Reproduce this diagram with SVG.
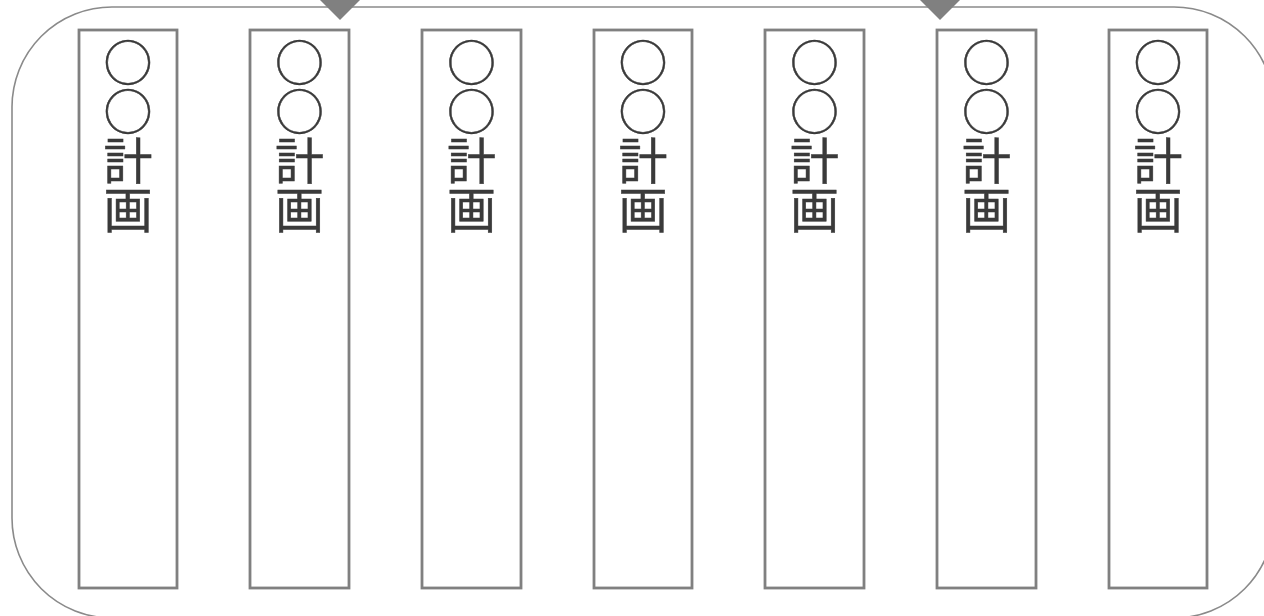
<svg xmlns="http://www.w3.org/2000/svg" width="1264" height="616" viewBox="0 0 1264 616">
<style>
.frame{fill:none;stroke:#8a8a8a;stroke-width:1.6}
.box{fill:#fff;stroke:#808080;stroke-width:2.8}
.lbl{font-family:"Noto Sans CJK JP","Noto Sans CJK SC",sans-serif;font-size:49px;fill:#3a3a3a;stroke:#3a3a3a;stroke-width:0.5;writing-mode:vertical-rl;glyph-orientation-vertical:0}
.dia{fill:#808080}
</style>
<g id="frame"><rect class="frame" x="12" y="7" width="1262" height="611" rx="100" ry="100"/></g>
<g id="connectors">
<path class="dia" d="M320,0 L360,0 L340,20 Z"/>
<path class="dia" d="M920,0 L960,0 L940,20 Z"/>
</g>
<g id="n1"><rect class="box" x="79" y="30" width="98" height="558"/><text class="lbl" x="128" y="38">○○計画</text></g>
<g id="n2"><rect class="box" x="250" y="30" width="99" height="558"/><text class="lbl" x="299.5" y="38">○○計画</text></g>
<g id="n3"><rect class="box" x="422" y="30" width="99" height="558"/><text class="lbl" x="471.5" y="38">○○計画</text></g>
<g id="n4"><rect class="box" x="594" y="30" width="98" height="558"/><text class="lbl" x="643" y="38">○○計画</text></g>
<g id="n5"><rect class="box" x="765" y="30" width="99" height="558"/><text class="lbl" x="814.5" y="38">○○計画</text></g>
<g id="n6"><rect class="box" x="937" y="30" width="99" height="558"/><text class="lbl" x="986.5" y="38">○○計画</text></g>
<g id="n7"><rect class="box" x="1109" y="30" width="98" height="558"/><text class="lbl" x="1158" y="38">○○計画</text></g>
</svg>
